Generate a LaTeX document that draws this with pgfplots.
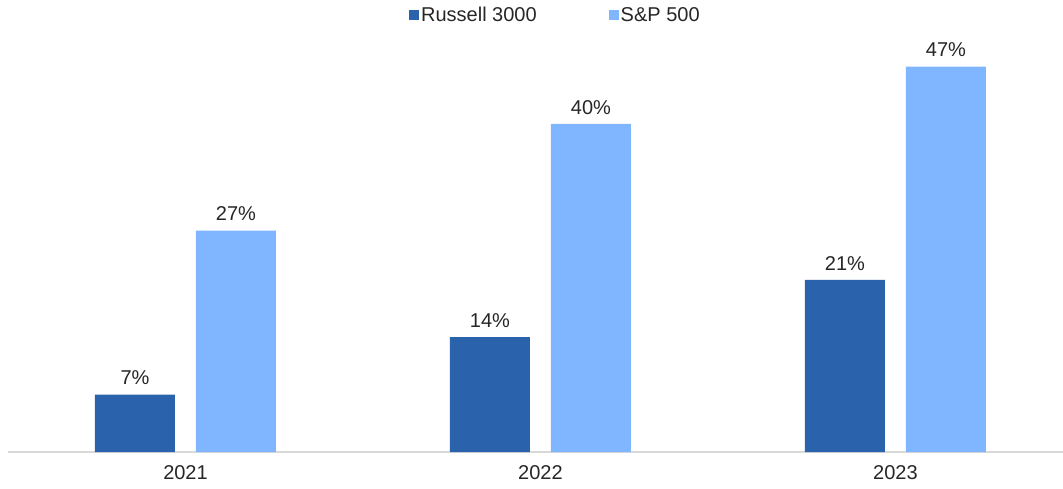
\documentclass[border=0pt]{standalone}
\usepackage{fontspec}
\setmainfont{Liberation Sans}
\usepackage{pgfplots}
\pgfplotsset{compat=1.18}
\definecolor{darkb}{HTML}{2A63AB}
\definecolor{lightb}{HTML}{80B6FF}
\definecolor{txt}{HTML}{262626}
\definecolor{axl}{HTML}{D9D9D9}
\begin{document}
\begin{tikzpicture}
\useasboundingbox (-8bp,-37bp) rectangle (1055bp,452bp);
\begin{axis}[
  scale only axis,
  width=1065bp, height=451bp,
  xmin=-0.5, xmax=2.5, ymin=0, ymax=55,
  ybar=21bp, bar width=80bp,
  axis x line=bottom, hide y axis,
  axis line style={draw=axl, line width=1.5bp, -},
  xtick={0,1,2}, xticklabels={2021,2022,2023},
  major tick length=0pt,
  xticklabel style={font=\fontsize{20bp}{24bp}\selectfont, text=txt, yshift=-10bp},
  /pgf/number format/assume math mode=true,
  nodes near coords={\pgfmathprintnumber{\pgfplotspointmeta}\%},
  every node near coord/.append style={font=\fontsize{20bp}{24bp}\selectfont, text=txt, yshift=6bp},
  clip=false,
  legend style={draw=none, fill=none, at={(0.514,0.969)}, anchor=center,
    font=\fontsize{20bp}{24bp}\selectfont, text=txt,
    /tikz/every even column/.append style={column sep=70bp}},
  legend columns=2,
  legend image code/.code={\path[#1] (-2bp,-5bp) rectangle (8bp,5bp);},
]
\addplot[fill=darkb, draw=none] coordinates {(0,7) (1,14) (2,21)};
\addplot[fill=lightb, draw=none] coordinates {(0,27) (1,40) (2,47)};
\legend{Russell 3000, S\&P 500}
\end{axis}
\end{tikzpicture}
\end{document}
